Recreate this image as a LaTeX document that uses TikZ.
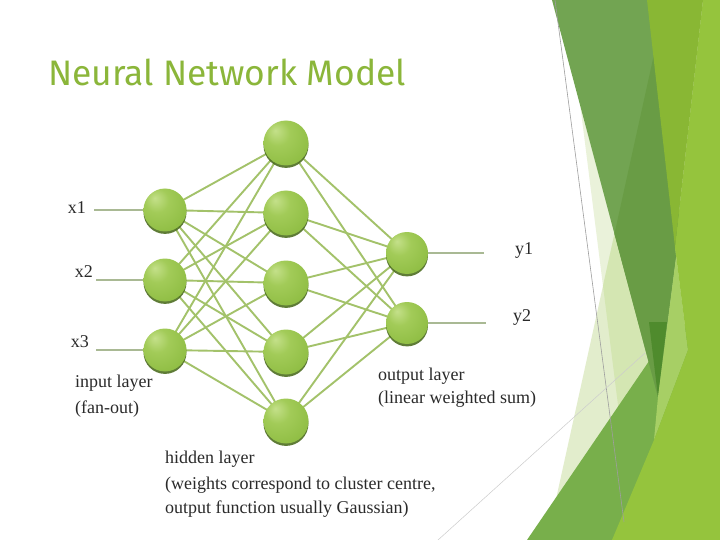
\documentclass[tikz,border=0pt]{standalone}
\usepackage{fontspec}
\setmainfont{Liberation Serif}
\newfontfamily\titlefont{Fira Sans}
\usetikzlibrary{shadows}
\definecolor{cE}{HTML}{EAF2DA}
\definecolor{cD}{HTML}{E2EDCC}
\definecolor{cDE}{HTML}{D4E6B2}
\definecolor{cG}{HTML}{78AF4B}
\definecolor{cP}{HTML}{72A452}
\definecolor{cPD}{HTML}{699C45}
\definecolor{cTip}{HTML}{4F8B2D}
\definecolor{cL}{HTML}{A7CF65}
\definecolor{cB}{HTML}{95C43D}
\definecolor{cP2}{HTML}{89B734}
\definecolor{titlegreen}{HTML}{8BB63A}
\definecolor{nnA}{HTML}{C4E08A}
\definecolor{nnB}{HTML}{A2CB58}
\definecolor{nnC}{HTML}{8CBB40}
\definecolor{nnD}{HTML}{77A52F}
\definecolor{nnE}{HTML}{5E8A22}
\definecolor{nnshadow}{HTML}{4E6E22}
\definecolor{nnline}{HTML}{A3C26A}
\definecolor{stubline}{HTML}{A9B994}
\definecolor{txt}{HTML}{2A2A2A}
\pgfdeclareradialshading{nnball}{\pgfpoint{-12bp}{14bp}}{color(0bp)=(nnA); color(14bp)=(nnB); color(38bp)=(nnC); color(54bp)=(nnD); color(68bp)=(nnE)}
\pgfdeclarelayer{deco}
\pgfdeclarelayer{bg}
\pgfsetlayers{deco,bg,main}
\tikzset{
  nnode/.style={circle, minimum size=#1, inner sep=0pt, shading=nnball,
    drop shadow={shadow xshift=0pt, shadow yshift=-2.4pt, fill=nnshadow, opacity=0.9}},
  edge/.style={draw=nnline, line width=1.9pt},
  stub/.style={draw=stubline, line width=2.8pt},
  lbl/.style={text=txt, font=\fontsize{18}{21}\selectfont, inner sep=0pt},
  vlabel/.style={text=txt, font=\fontsize{18}{21}\selectfont, inner sep=0pt},
  grayline/.style={draw=black!38, line width=0.6pt},
  faintline/.style={draw=black!20, line width=0.5pt}
}
\begin{document}
\begin{tikzpicture}[x=1pt,y=-1pt]
\useasboundingbox (0,0) rectangle (720,540);

\begin{pgfonlayer}{deco}
\fill[white] (0,0) rectangle (720,540);
\fill[cE] (567,0) -- (720,0) -- (720,540) -- (635,540) -- cycle;
\fill[cD] (666,0) -- (720,0) -- (720,540) -- (547,540) -- cycle;
\begin{scope}
\clip (666,0) -- (720,0) -- (720,540) -- (547,540) -- cycle;
\fill[cDE] (567,0) -- (720,0) -- (720,540) -- (635,540) -- cycle;
\end{scope}
\fill[cG] (527,540) -- (660,345) -- (720,300) -- (720,540) -- cycle;
\fill[cP] (552,0) -- (690,0) -- (677,250) -- (658,397) -- cycle;
\begin{scope}
\clip (552,0) -- (690,0) -- (677,250) -- (658,397) -- cycle;
\fill[cPD] (666,0) -- (720,0) -- (720,540) -- (547,540) -- cycle;
\end{scope}
\fill[cTip] (649,322) -- (667,322) -- (658,397) -- cycle;
\fill[cL] (675,247) -- (688,350) -- (654,440) -- (658,397) -- (677,250) -- cycle;
\fill[cB] (703,0) -- (720,0) -- (720,540) -- (612,540) -- (654,440) -- (688,350) -- (675,247) -- cycle;
\fill[cP2] (647,0) -- (703,0) -- (675,247) -- cycle;
\draw[grayline] (555,0) -- (624,522);
\draw[faintline] (438,540) -- (645,353);
\end{pgfonlayer}

% title
\node[anchor=base west, text=titlegreen, inner sep=0pt,
  font=\titlefont\fontsize{35.4}{42}\selectfont] (title) at (48,86) {Neural Network Model};

% input nodes
\node[nnode=43pt] (i1) at (165,210) {};
\node[nnode=43pt] (i2) at (165,280) {};
\node[nnode=43pt] (i3) at (165,350) {};
% hidden nodes
\node[nnode=45pt] (h1) at (286,143) {};
\node[nnode=45pt] (h2) at (286,213) {};
\node[nnode=45pt] (h3) at (286,283) {};
\node[nnode=45pt] (h4) at (286,352) {};
\node[nnode=45pt] (h5) at (286,421) {};
% output nodes
\node[nnode=42pt] (o1) at (407,253) {};
\node[nnode=42pt] (o2) at (407,323) {};

% free ends
\coordinate (s1) at (94,210);
\coordinate (s2) at (96,280);
\coordinate (s3) at (96,350);
\coordinate (t1) at (484,253);
\coordinate (t2) at (486,323);

\begin{pgfonlayer}{bg}
\foreach \i in {1,2,3}{
  \foreach \h in {1,...,5}{
    \draw[edge] (i\i.center) -- (h\h.center);
  }
}
\foreach \h in {1,...,5}{
  \foreach \o in {1,2}{
    \draw[edge] (h\h.center) -- (o\o.center);
  }
}
\draw[stub] (s1) -- (i1.center);
\draw[stub] (s2) -- (i2.center);
\draw[stub] (s3) -- (i3.center);
\draw[stub] (o1.center) -- (t1);
\draw[stub] (o2.center) -- (t2);
\end{pgfonlayer}

% variable labels
\node[vlabel, anchor=east] (lx1) at (86,208) {x1};
\node[vlabel, anchor=east] (lx2) at (93,272) {x2};
\node[vlabel, anchor=east] (lx3) at (89,342) {x3};
\node[vlabel, anchor=west] (ly1) at (515,251) {y1};
\node[vlabel, anchor=west] (ly2) at (513,317) {y2};

% layer labels
\node[lbl, anchor=west] (in1) at (75,383) {input layer};
\node[lbl, anchor=west] (in2) at (75,409) {(fan-out)};
\node[lbl, anchor=west] (out1) at (378,376) {output layer};
\node[lbl, anchor=west] (out2) at (378,399) {(linear weighted sum)};
\node[lbl, anchor=west] (hid1) at (165,459) {hidden layer};
\node[lbl, anchor=west] (hid2) at (165,485) {(weights correspond to cluster centre,};
\node[lbl, anchor=west] (hid3) at (165,509) {output function usually Gaussian)};
\end{tikzpicture}
\end{document}
